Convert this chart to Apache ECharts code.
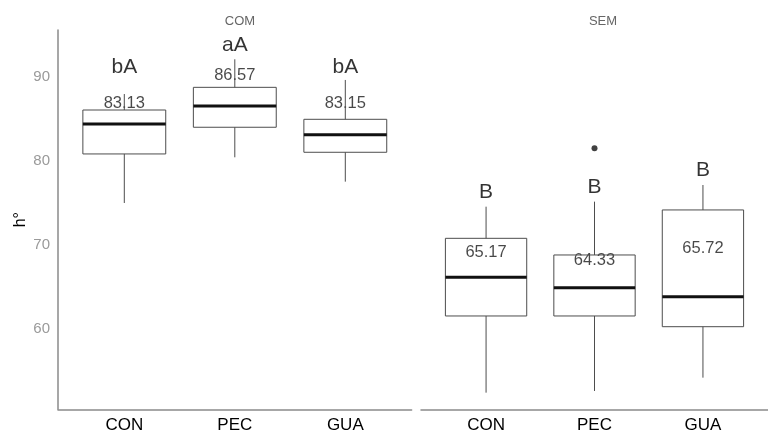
<!DOCTYPE html>
<html>
<head>
<meta charset="utf-8">
<script src="https://cdn.jsdelivr.net/npm/echarts@6/dist/echarts.min.js"></script>
<style>
  html, body { margin: 0; padding: 0; background: #fff; }
  #chart { width: 768px; height: 435px; }
</style>
</head>
<body>
<div id="chart"></div>
<script>
// categories (x = 1, 2, 3 in each panel)
const categories = ['CON', 'PEC', 'GUA']
const panels = ['COM', 'SEM']
const yTicks = [60, 70, 80, 90]

// box stats: min, Q1, median, Q3, max
const lowCOM = [74.98, 80.44, 77.53]
const q1COM = [80.84, 84.03, 81.04]
const medCOM = [84.42, 86.57, 83.14]
const q3COM = [86.09, 88.8, 84.98]
const highCOM = [88.0, 92.15, 89.68]

const lowSEM = [52.32, 52.52, 54.11]
const q1SEM = [61.48, 61.48, 60.2]
const medSEM = [66.1, 64.86, 63.79]
const q3SEM = [70.76, 68.77, 74.15]
const highSEM = [74.54, 75.14, 77.13]

// outliers: [category index (1-based), value]
const outliersSEM = [[2, 81.52]]

// annotation texts and the heights they sit at
const letterCOM = ['bA', 'aA', 'bA']
const letterCOMY = [91.23, 93.86, 91.23]
const meanCOM = ['83.13', '86.57', '83.15']
const meanCOMY = [86.93, 90.27, 86.93]

const letterSEM = ['B', 'B', 'B']
const letterSEMY = [76.27, 76.87, 78.9]
const meanSEM = ['65.17', '64.33', '65.72']
const meanSEMY = [69.07, 68.1, 69.55]

const FONT = 'Liberation Sans, Arial, sans-serif'
const Y_MIN = 50.33
const Y_MAX = 95.65

function boxData(low, q1, med, q3, high) {
  return categories.map((c, i) => [i + 1, low[i], q1[i], med[i], q3[i], high[i]])
}

function textData(texts, ys) {
  return texts.map((t, i) => ({ value: [i + 1, ys[i]], name: t }))
}

function renderBox(params, api) {
  const x = api.value(0)
  const half = 0.375
  const pLow = api.coord([x, api.value(1)])
  const pQ1 = api.coord([x, api.value(2)])
  const pMed = api.coord([x, api.value(3)])
  const pQ3 = api.coord([x, api.value(4)])
  const pHigh = api.coord([x, api.value(5)])
  const left = api.coord([x - half, api.value(3)])[0]
  const right = api.coord([x + half, api.value(3)])[0]
  const thin = { stroke: '#4d4d4d', lineWidth: 1 }
  return {
    type: 'group',
    children: [
      { type: 'line', shape: { x1: pQ3[0], y1: pQ3[1], x2: pHigh[0], y2: pHigh[1] }, style: thin },
      { type: 'line', shape: { x1: pQ1[0], y1: pQ1[1], x2: pLow[0], y2: pLow[1] }, style: thin },
      {
        type: 'rect',
        shape: { x: left, y: pQ3[1], width: right - left, height: pQ1[1] - pQ3[1] },
        style: { fill: 'none', stroke: '#4d4d4d', lineWidth: 1 },
      },
      {
        type: 'line',
        shape: { x1: left, y1: pMed[1], x2: right, y2: pMed[1] },
        style: { stroke: '#111', lineWidth: 3 },
      },
    ],
  }
}

function textSeries(idx, data, size, color) {
  return {
    type: 'scatter',
    xAxisIndex: idx,
    yAxisIndex: idx,
    symbolSize: 0,
    silent: true,
    z: 1,
    data: data,
    label: {
      show: true,
      position: 'inside',
      formatter: (p) => p.name,
      fontFamily: FONT,
      fontSize: size,
      color: color,
    },
  }
}

const chart = echarts.init(document.getElementById('chart'))

const xAxisBase = {
  type: 'value',
  min: 0.4,
  max: 3.6,
  splitLine: { show: false },
  axisTick: { show: false },
  axisLine: { show: true, lineStyle: { color: '#8a8a8a', width: 1.5 } },
  axisLabel: {
    customValues: [1, 2, 3],
    formatter: (v) => categories[Math.round(v) - 1] || '',
    color: '#000',
    fontFamily: FONT,
    fontSize: 17,
    margin: 8,
  },
}

const option = {
  animation: false,
  backgroundColor: '#fff',
  title: panels.map((p, i) => ({
    text: p,
    left: i === 0 ? 235 : 598,
    top: 10,
    textAlign: 'center',
    textStyle: { fontFamily: FONT, fontSize: 13, fontWeight: 'normal', color: '#666' },
  })),
  grid: [
    { left: 58, top: 30, width: 353.6, height: 379.3 },
    { left: 421, top: 30, width: 353.6, height: 379.3 },
  ],
  xAxis: [
    Object.assign({ gridIndex: 0 }, xAxisBase),
    Object.assign({ gridIndex: 1 }, xAxisBase),
  ],
  yAxis: [
    {
      type: 'value',
      gridIndex: 0,
      min: Y_MIN,
      max: Y_MAX,
      name: 'h°',
      nameLocation: 'middle',
      nameRotate: 90,
      nameGap: 29,
      nameTextStyle: { fontFamily: FONT, fontSize: 16, color: '#000' },
      splitLine: { show: false },
      axisTick: { show: false },
      axisLine: { show: true, lineStyle: { color: '#8a8a8a', width: 1.5 } },
      axisLabel: {
        customValues: yTicks,
        color: '#9a9a9a',
        fontFamily: FONT,
        fontSize: 15,
        margin: 8,
      },
    },
    {
      type: 'value',
      gridIndex: 1,
      min: Y_MIN,
      max: Y_MAX,
      splitLine: { show: false },
      axisTick: { show: false },
      axisLine: { show: false },
      axisLabel: { show: false },
    },
  ],
  series: [
    textSeries(0, textData(letterCOM, letterCOMY), 21, '#000'),
    textSeries(0, textData(meanCOM, meanCOMY), 16.5, '#1a1a1a'),
    textSeries(1, textData(letterSEM, letterSEMY), 21, '#000'),
    textSeries(1, textData(meanSEM, meanSEMY), 16.5, '#1a1a1a'),
    {
      type: 'custom',
      xAxisIndex: 0,
      yAxisIndex: 0,
      z: 5,
      renderItem: renderBox,
      encode: { x: 0, y: [1, 2, 3, 4, 5] },
      data: boxData(lowCOM, q1COM, medCOM, q3COM, highCOM),
    },
    {
      type: 'custom',
      xAxisIndex: 1,
      yAxisIndex: 1,
      z: 5,
      renderItem: renderBox,
      encode: { x: 0, y: [1, 2, 3, 4, 5] },
      data: boxData(lowSEM, q1SEM, medSEM, q3SEM, highSEM),
    },
    {
      type: 'scatter',
      xAxisIndex: 1,
      yAxisIndex: 1,
      symbolSize: 6,
      itemStyle: { color: '#111' },
      data: outliersSEM,
    },
  ],
}

chart.setOption(option)
</script>
</body>
</html>
